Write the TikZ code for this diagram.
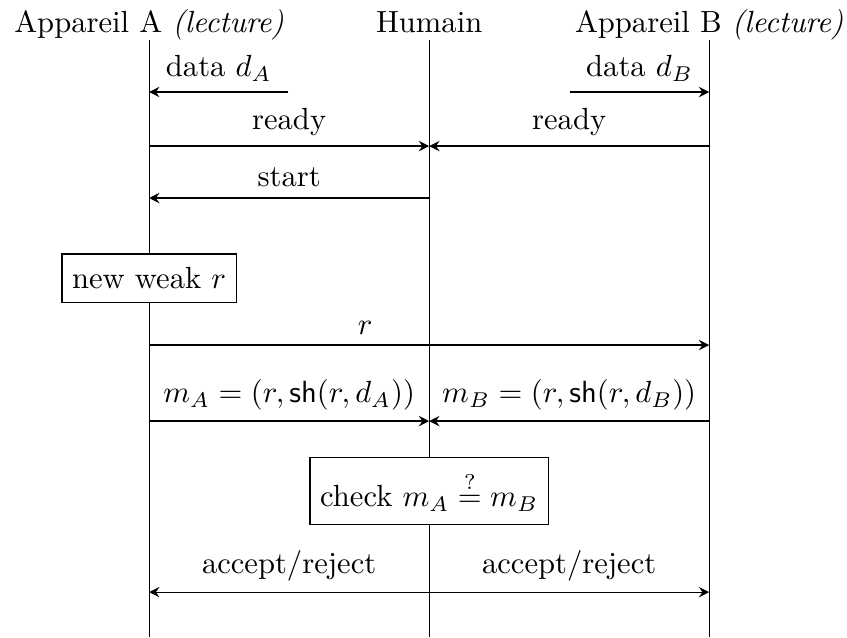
\documentclass[tikz,border=0pt]{standalone}
\usepackage{amsmath}
\usetikzlibrary{positioning,calc,arrows.meta}

\begin{document}
\begin{tikzpicture}[>={Stealth[length=3.4pt, width=3.4pt, inset=1.2pt]},
    action/.style={draw, fill=white, inner ysep=4.4pt},
    head/.style={anchor=base}]
    \useasboundingbox (-4.93,0) rectangle (4.80,-7.32);
    % lifeline positions
    \def\xA{-3.217}
    \def\xH{0}
    \def\xB{3.217}

    % headers
    \node[head] (hA) at (\xA,-0.368) {Appareil A \textit{(lecture)}};
    \node[head] (hH) at (\xH,-0.368) {Humain};
    \node[head] (hB) at (\xB,-0.368) {Appareil B \textit{(lecture)}};

    % lifelines
    \coordinate (At) at (\xA,-0.46); \coordinate (Ab) at (\xA,-7.32);
    \coordinate (Ht) at (\xH,-0.46); \coordinate (Hb) at (\xH,-7.32);
    \coordinate (Bt) at (\xB,-0.46); \coordinate (Bb) at (\xB,-7.32);
    \draw (At) -- (Ab);
    \draw (Ht) -- (Hb);
    \draw (Bt) -- (Bb);

    % data read by each device
    \coordinate (A1) at (\xA,-1.057); \coordinate (dA) at ($(A1)+(1.6,0)$);
    \coordinate (B1) at (\xB,-1.057); \coordinate (dB) at ($(B1)+(-1.6,0)$);
    \draw[->] (dA) -- node[above] (ldA) {data $d_A$} (A1);
    \draw[->] (dB) -- node[above] (ldB) {data $d_B$} (B1);

    % ready
    \coordinate (A2) at (\xA,-1.678); \coordinate (H2) at (\xH,-1.678); \coordinate (B2) at (\xB,-1.678);
    \draw[->] (A2) -- node[above] (lrA) {ready} (H2);
    \draw[->] (B2) -- node[above] (lrB) {ready} (H2);

    % start
    \coordinate (A3) at (\xA,-2.275); \coordinate (H3) at (\xH,-2.275);
    \draw[->] (H3) -- node[above] (lst) {start} (A3);

    % new nonce
    \node[action] (new) at (\xA,-3.195) {new weak $r$};

    % r
    \coordinate (A4) at (\xA,-3.964); \coordinate (B4) at (\xB,-3.964);
    \draw[->] (A4) -- node[above, pos=0.386] (lr) {$r$} (B4);

    % messages
    \coordinate (A5) at (\xA,-4.837); \coordinate (H5) at (\xH,-4.837); \coordinate (B5) at (\xB,-4.837);
    \draw[->] (A5) -- node[above] (lmA) {$m_A = (r, \mathsf{sh}(r, d_A))$} (H5);
    \draw[->] (B5) -- node[above] (lmB) {$m_B = (r, \mathsf{sh}(r, d_B))$} (H5);

    % check
    \node[action] (check) at (\xH,-5.642) {check $m_A \stackrel{?}{=} m_B$};

    % result
    \coordinate (A6) at (\xA,-6.802); \coordinate (H6) at (\xH,-6.802); \coordinate (B6) at (\xB,-6.802);
    \draw[->] (H6) -- node[above] (laA) {accept/reject} (A6);
    \draw[->] (H6) -- node[above] (laB) {accept/reject} (B6);
\end{tikzpicture}
\end{document}
